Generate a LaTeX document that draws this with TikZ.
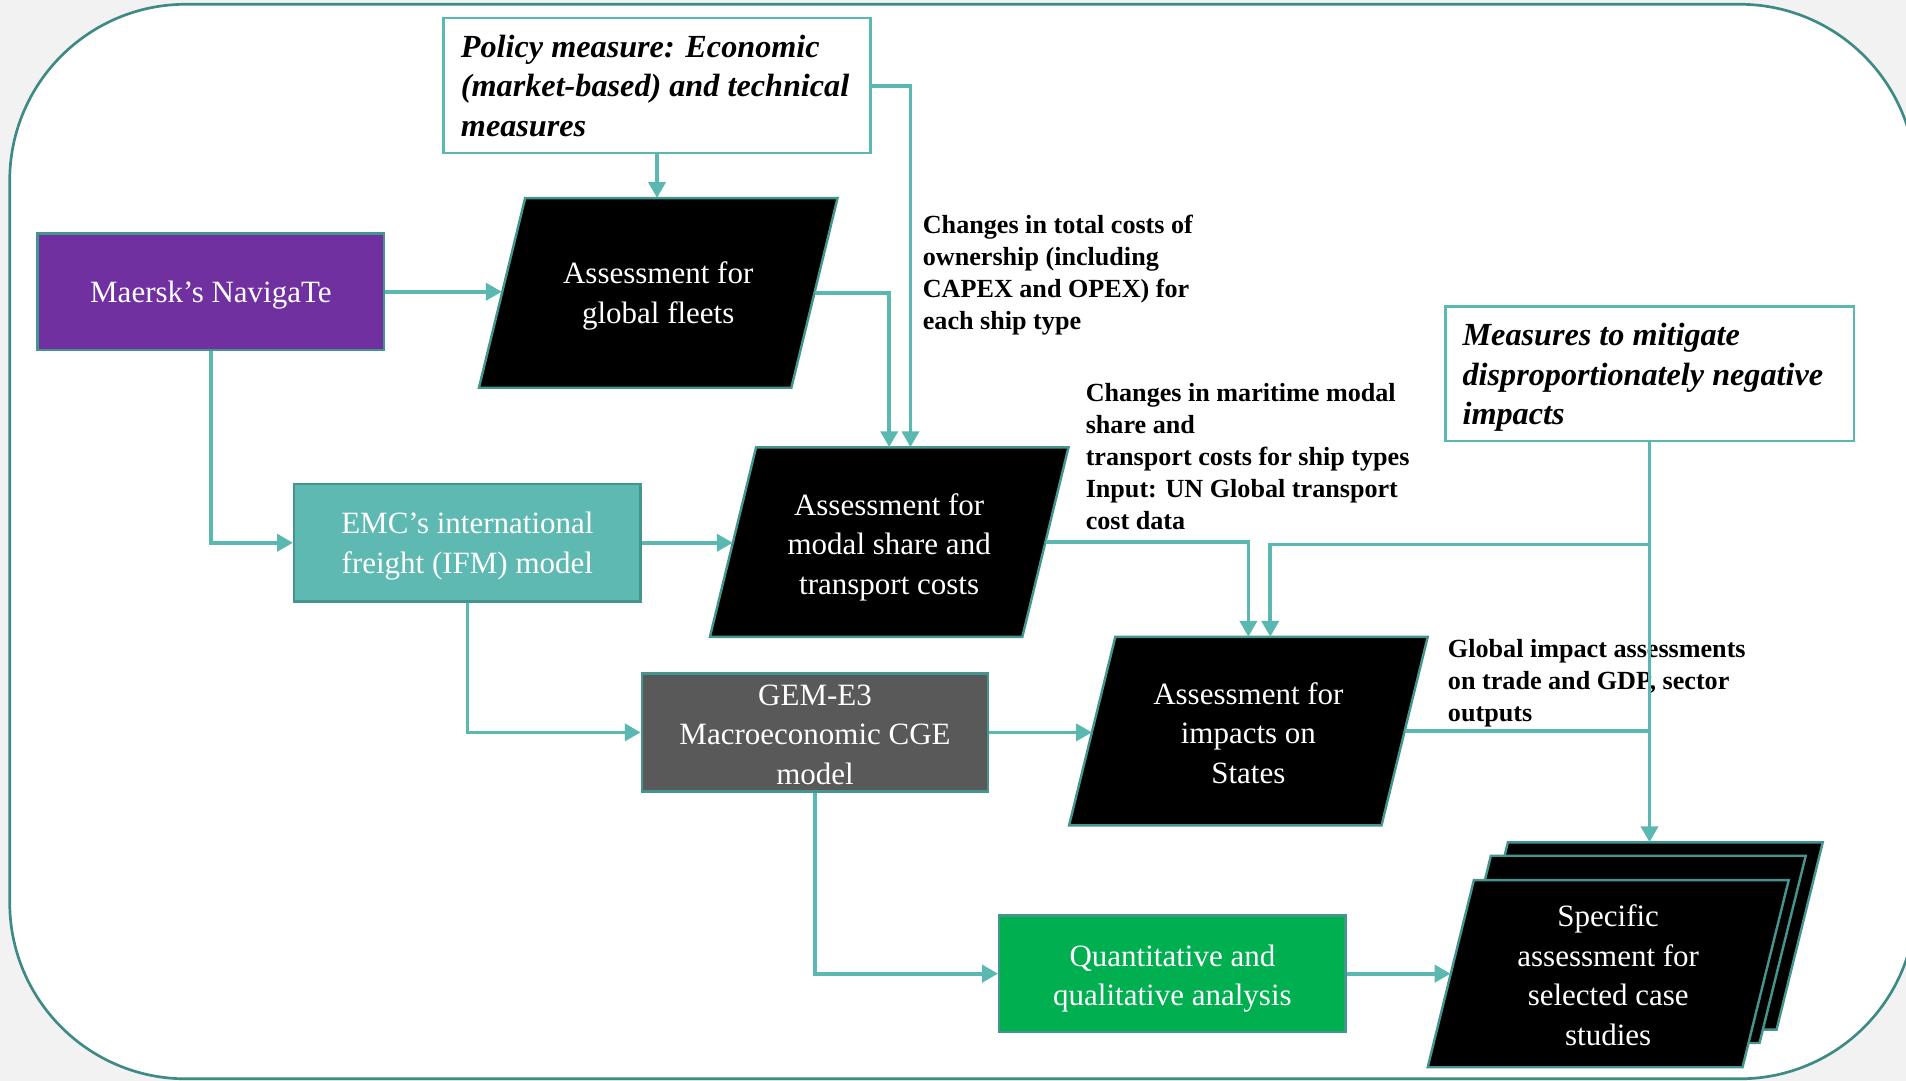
\documentclass[tikz,border=0pt]{standalone}
\usepackage{fontspec}
\setmainfont{Liberation Serif}
\usetikzlibrary{arrows.meta,calc}
\definecolor{bggray}{HTML}{F2F2F2}
\definecolor{frameteal}{HTML}{3E8A84}
\definecolor{connteal}{HTML}{5BB8B0}
\definecolor{edgeteal}{HTML}{45958F}
\definecolor{mpurple}{HTML}{7030A0}
\definecolor{mteal}{HTML}{5DB9B1}
\definecolor{mgray}{HTML}{595959}
\definecolor{mgreen}{HTML}{00B050}
\newcommand\paraShape[4]{% cx, cy, half width (mid), half height
  \filldraw[paraedge] ({#1-#3+19},{#2-#4}) -- ({#1+#3+19},{#2-#4}) -- ({#1+#3-19},{#2+#4}) -- ({#1-#3-19},{#2+#4}) -- cycle;}
\newcommand\tx[1]{\rule{0pt}{26pt}#1\rule[-5.5pt]{0pt}{0pt}}
\newcommand\txa[1]{\rule{0pt}{23pt}#1\rule[-5.5pt]{0pt}{0pt}}
\newcommand\itx[1]{\rule{0pt}{24.5pt}#1\rule[-6pt]{0pt}{0pt}}
\tikzset{
  paraedge/.style={fill=black, draw=edgeteal, line width=2pt, line join=miter},
  nodefont/.style={font=\fontsize{25.5}{32.5}\selectfont},
  box/.style={rectangle, draw=edgeteal, line width=2pt, text=white, align=center, nodefont,
    minimum width=285pt, minimum height=96pt, inner sep=0pt},
  paratext/.style={rectangle, draw=none, text=white, align=center, nodefont,
    minimum width=257pt, minimum height=156pt, inner sep=0pt},
  notebox/.style={rectangle, draw=connteal, line width=2pt, fill=white, inner sep=0pt},
  ittext/.style={anchor=west, align=left, inner sep=0pt, font=\bfseries\itshape\fontsize{26.5}{32.5}\selectfont},
  lbl/.style={anchor=north west, align=left, inner sep=0pt, font=\bfseries\fontsize{21.5}{26.3}\selectfont},
  arr/.style={draw=connteal, line width=3pt, -{Triangle[length=13pt,width=14pt]}},
  ln/.style={draw=connteal, line width=3pt}
}
\begin{document}
\begin{tikzpicture}[x=1pt,y=-1pt]
\useasboundingbox (0,0) rectangle (1568,889);
\begin{scope}
  \clip (0,0) rectangle (1568,889);
  \fill[bggray] (0,0) rectangle (1568,889);
  \draw[frameteal, line width=2.2pt, fill=white, rounded corners=145pt] (8,3.5) rectangle (1576,887.5);
\end{scope}

% text boxes
\node[notebox, minimum width=351pt, minimum height=111pt] (policy) at (540.5,70.5) {};
\node[ittext] (policytxt) at ($(policy.west)+(15,0)$) {\itx{Policy measure: Economic\\(market-based) and technical\\measures}};
\node[notebox, minimum width=336pt, minimum height=111pt] (measures) at (1357,307.5) {};
\node[ittext] (measurestxt) at ($(measures.west)+(15,0)$) {\itx{Measures to mitigate\\disproportionately negative\\impacts}};

% boxes
\node[box, fill=mpurple] (maersk) at (173.5,240) {\txa{Maersk’s NavigaTe}};
\node[box, fill=mteal, minimum height=97pt] (emc) at (384.5,446.5) {\txa{EMC’s international\\freight (IFM) model}};
\node[box, fill=mgray, minimum height=97pt] (gem) at (670.5,602.5) {\tx{GEM-E3\\Macroeconomic CGE\\model}};
\node[box, fill=mgreen] (quant) at (964.5,801) {\tx{Quantitative and\\qualitative analysis}};

% parallelograms
\paraShape{541.5}{241}{128.5}{78}
\node[paratext] (fleets) at (541.5,241) {\txa{Assessment for\\global fleets}};
\paraShape{731.5}{446}{128.5}{78}
\node[paratext] (modal) at (731.5,446) {\tx{Assessment for\\modal share and\\transport costs}};
\paraShape{1027}{601.5}{128.5}{77.5}
\node[paratext, minimum height=155pt] (states) at (1027,601.5) {\tx{Assessment for\\impacts on\\States}};
\paraShape{1351}{770}{129.5}{77}
\node[paratext, minimum width=259pt, minimum height=154pt] (specback) at (1351,770) {};
\paraShape{1337}{781}{129.5}{77}
\node[paratext, minimum width=259pt, minimum height=154pt] (specmid) at (1337,781) {};
\paraShape{1323}{801}{129.5}{77}
\node[paratext, minimum width=259pt, minimum height=154pt] (spec) at (1323,801) {\tx{Specific\\assessment for\\selected case\\studies}};

% labels
\node[lbl] (lab1) at (759,177) {Changes in total costs of\\ownership (including\\CAPEX and OPEX) for\\each ship type};
\node[lbl] (lab2) at (893,315) {Changes in maritime modal\\share and\\transport costs for ship types\\Input: UN Global transport\\cost data};
\node[lbl] (lab3) at (1191,526) {Global impact assessments\\on trade and GDP, sector\\outputs};

% connectors
\draw[arr] (policy.south) -- (policy.south |- fleets.north);
\draw[arr] (policy.east) -| ($(modal.north)+(17.5,0)$);
\draw[arr] (maersk.east) -- (maersk.east -| fleets.west);
\draw[arr] (fleets.east) -| (modal.north);
\draw[arr] (maersk.south) |- (emc.west);
\draw[arr] (emc.east) -- (emc.east -| modal.west);
\draw[arr] (emc.south) |- (gem.west);
\draw[arr] (modal.east) -| (states.north);
\coordinate (mj) at (1357,448);
\draw[arr] (measures.south) -- (measures.south |- specback.north);
\draw[arr] (mj) -| ($(states.north)+(18,0)$);
\draw[arr] (gem.east) -- (gem.east -| states.west);
\draw[ln] (states.east) -- (measures.south |- states.east);
\draw[arr] (gem.south) |- (quant.west);
\draw[arr] (quant.east) -- (spec.west);
\end{tikzpicture}
\end{document}
